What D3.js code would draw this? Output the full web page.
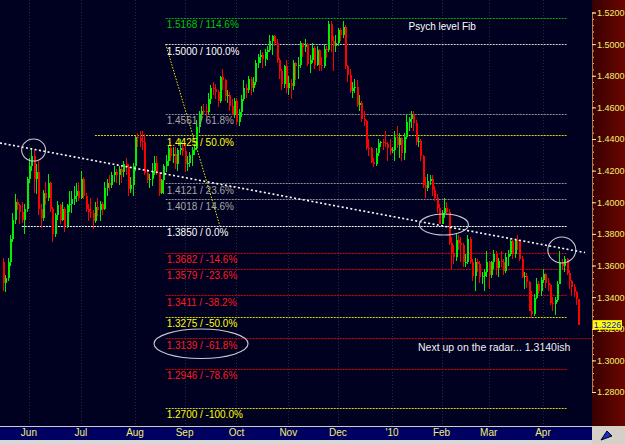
<!DOCTYPE html>
<html>
<head>
<meta charset="utf-8">
<script src="https://cdn.jsdelivr.net/npm/d3@7"></script>
<style>
  html, body { margin: 0; padding: 0; background: #000020; }
  svg { display: block; }
  text { font-family: "Liberation Sans", Arial, sans-serif; }
</style>
</head>
<body>
<svg id="chart" width="625" height="444"></svg>
<script>
// EUR/USD daily candles, 15 May 2009 .. 22 Apr 2010 (weekdays)
const firstDay = "2009-05-15";
const lastDay = "2010-04-22";
const monthLabels = ["Jun", "Jul", "Aug", "Sep", "Oct", "Nov", "Dec", "'10", "Feb", "Mar", "Apr"];

const opens = [
  1.3620, 1.3490, 1.3520, 1.3620, 1.3770, 1.3890, 1.4000, 1.3985, 1.3940, 1.3890, 1.3960,
  1.4150, 1.4230, 1.4290, 1.4150, 1.4190, 1.3960, 1.3900, 1.4060, 1.4030, 1.4120, 1.3960, 1.3800, 1.3920, 1.3980, 1.3885, 1.3960, 1.3850, 1.3980, 1.3990, 1.4020, 1.4040, 1.4070,
  1.4030, 1.4150, 1.4040, 1.3960, 1.3940, 1.3930, 1.3880, 1.3970, 1.3950, 1.3990, 1.3960, 1.4090, 1.4120, 1.4110, 1.4170, 1.4190, 1.4175, 1.4210, 1.4190, 1.4240, 1.4220, 1.4085, 1.4110,
  1.4230, 1.4410, 1.4405, 1.4385, 1.4380, 1.4185, 1.4140, 1.4150, 1.4200, 1.4250, 1.4185, 1.4060, 1.4140, 1.4230, 1.4260, 1.4340, 1.4295, 1.4305, 1.4245, 1.4330, 1.4345,
  1.4325, 1.4245, 1.4250, 1.4300, 1.4330, 1.4345, 1.4475, 1.4560, 1.4580, 1.4575, 1.4570, 1.4650, 1.4720, 1.4715, 1.4700, 1.4640, 1.4790, 1.4770, 1.4670, 1.4680, 1.4610, 1.4560,
  1.4640, 1.4510, 1.4570, 1.4655, 1.4725, 1.4710, 1.4780, 1.4725, 1.4760, 1.4880, 1.4920, 1.4930, 1.4905, 1.4950, 1.4960, 1.5020, 1.5050, 1.5010, 1.4900, 1.4830, 1.4745, 1.4860,
  1.4720, 1.4755, 1.4735, 1.4880, 1.4860, 1.4865, 1.5010, 1.4980, 1.5000, 1.4875, 1.4900, 1.4975, 1.4870, 1.4960, 1.4870, 1.4860, 1.4970, 1.4965, 1.5125, 1.5020, 1.4985,
  1.5005, 1.5090, 1.5060, 1.5110, 1.4860, 1.4805, 1.4705, 1.4720, 1.4730, 1.4615, 1.4630, 1.4525, 1.4515, 1.4345, 1.4340, 1.4255, 1.4240, 1.4310, 1.4375, 1.4380, 1.4375, 1.4370, 1.4340,
  1.4325, 1.4330, 1.4410, 1.4365, 1.4405, 1.4310, 1.4410, 1.4510, 1.4525, 1.4560, 1.4500, 1.4380, 1.4385, 1.4290, 1.4110, 1.4090, 1.4135, 1.4150, 1.4075, 1.4030, 1.3965,
  1.3865, 1.3930, 1.3965, 1.3940, 1.3740, 1.3675, 1.3655, 1.3760, 1.3740, 1.3730, 1.3620, 1.3625, 1.3770, 1.3625, 1.3535, 1.3620, 1.3610, 1.3525, 1.3535, 1.3560,
  1.3625, 1.3540, 1.3620, 1.3670, 1.3585, 1.3630, 1.3625, 1.3565, 1.3655, 1.3675, 1.3755, 1.3670, 1.3760, 1.3755, 1.3640, 1.3530, 1.3535, 1.3495, 1.3315, 1.3295, 1.3395, 1.3480, 1.3440,
  1.3510, 1.3545, 1.3490, 1.3475, 1.3365, 1.3355, 1.3380, 1.3485, 1.3620, 1.3600, 1.3640, 1.3555, 1.3500, 1.3465, 1.3435, 1.3385
];
const highs = [
  1.3650, 1.3540, 1.3650, 1.3790, 1.3930, 1.4050, 1.4020, 1.3990, 1.4000, 1.3990, 1.4160,
  1.4280, 1.4340, 1.4330, 1.4240, 1.4260, 1.3990, 1.4080, 1.4130, 1.4180, 1.4130, 1.3970, 1.3930, 1.4010, 1.3990, 1.4000, 1.3970, 1.3990, 1.4070, 1.4070, 1.4100, 1.4120, 1.4130,
  1.4200, 1.4160, 1.4060, 1.3990, 1.4030, 1.3950, 1.4000, 1.4030, 1.4010, 1.4000, 1.4130, 1.4150, 1.4170, 1.4190, 1.4230, 1.4210, 1.4230, 1.4230, 1.4260, 1.4280, 1.4240, 1.4160, 1.4250,
  1.4420, 1.4440, 1.4450, 1.4450, 1.4430, 1.4210, 1.4180, 1.4250, 1.4290, 1.4290, 1.4190, 1.4150, 1.4240, 1.4300, 1.4360, 1.4380, 1.4350, 1.4350, 1.4340, 1.4400, 1.4370,
  1.4370, 1.4290, 1.4320, 1.4350, 1.4370, 1.4520, 1.4580, 1.4610, 1.4620, 1.4620, 1.4690, 1.4740, 1.4760, 1.4750, 1.4710, 1.4800, 1.4845, 1.4780, 1.4710, 1.4700, 1.4650, 1.4660,
  1.4660, 1.4590, 1.4680, 1.4770, 1.4750, 1.4800, 1.4790, 1.4790, 1.4900, 1.4940, 1.4960, 1.4950, 1.4970, 1.4990, 1.5060, 1.5060, 1.5060, 1.5030, 1.4910, 1.4840, 1.4870, 1.4900,
  1.4800, 1.4780, 1.4900, 1.4890, 1.4920, 1.5020, 1.5010, 1.5030, 1.5010, 1.4930, 1.5010, 1.4990, 1.4990, 1.4970, 1.4920, 1.5000, 1.4990, 1.5145, 1.5145, 1.5050, 1.5060,
  1.5100, 1.5100, 1.5145, 1.5120, 1.4870, 1.4840, 1.4760, 1.4780, 1.4770, 1.4680, 1.4640, 1.4580, 1.4520, 1.4400, 1.4350, 1.4280, 1.4340, 1.4400, 1.4390, 1.4400, 1.4450, 1.4380, 1.4400,
  1.4350, 1.4450, 1.4480, 1.4440, 1.4410, 1.4440, 1.4560, 1.4540, 1.4580, 1.4580, 1.4520, 1.4410, 1.4400, 1.4300, 1.4160, 1.4180, 1.4170, 1.4170, 1.4100, 1.4050, 1.3990,
  1.3950, 1.4030, 1.4000, 1.3960, 1.3780, 1.3730, 1.3800, 1.3790, 1.3780, 1.3740, 1.3670, 1.3790, 1.3780, 1.3640, 1.3650, 1.3640, 1.3630, 1.3560, 1.3580, 1.3690,
  1.3630, 1.3630, 1.3700, 1.3690, 1.3650, 1.3690, 1.3640, 1.3680, 1.3700, 1.3770, 1.3760, 1.3770, 1.3790, 1.3760, 1.3660, 1.3560, 1.3550, 1.3500, 1.3440, 1.3420, 1.3520, 1.3500, 1.3530,
  1.3580, 1.3550, 1.3520, 1.3480, 1.3400, 1.3400, 1.3500, 1.3690, 1.3640, 1.3660, 1.3650, 1.3570, 1.3510, 1.3480, 1.3440, 1.3390
];
const lows = [
  1.3440, 1.3430, 1.3500, 1.3600, 1.3750, 1.3860, 1.3950, 1.3860, 1.3870, 1.3800, 1.3940,
  1.4120, 1.4200, 1.4060, 1.4050, 1.3920, 1.3840, 1.3880, 1.3980, 1.4010, 1.3940, 1.3750, 1.3780, 1.3890, 1.3860, 1.3880, 1.3810, 1.3840, 1.3940, 1.3930, 1.3980, 1.4000, 1.4010,
  1.4020, 1.4020, 1.3940, 1.3880, 1.3900, 1.3830, 1.3870, 1.3910, 1.3880, 1.3920, 1.3950, 1.4040, 1.4070, 1.4090, 1.4130, 1.4120, 1.4110, 1.4120, 1.4160, 1.4170, 1.4040, 1.4060, 1.4040,
  1.4200, 1.4350, 1.4350, 1.4330, 1.4170, 1.4120, 1.4090, 1.4100, 1.4170, 1.4170, 1.4040, 1.4050, 1.4050, 1.4190, 1.4230, 1.4260, 1.4250, 1.4210, 1.4200, 1.4300, 1.4290,
  1.4190, 1.4200, 1.4220, 1.4230, 1.4300, 1.4330, 1.4440, 1.4520, 1.4550, 1.4540, 1.4560, 1.4620, 1.4680, 1.4650, 1.4600, 1.4630, 1.4710, 1.4640, 1.4630, 1.4580, 1.4550, 1.4530,
  1.4490, 1.4480, 1.4540, 1.4640, 1.4660, 1.4690, 1.4680, 1.4700, 1.4740, 1.4850, 1.4880, 1.4850, 1.4860, 1.4900, 1.4950, 1.4930, 1.4990, 1.4880, 1.4780, 1.4710, 1.4720, 1.4690,
  1.4680, 1.4650, 1.4710, 1.4770, 1.4780, 1.4850, 1.4920, 1.4950, 1.4860, 1.4820, 1.4880, 1.4840, 1.4860, 1.4830, 1.4830, 1.4850, 1.4910, 1.4950, 1.4950, 1.4830, 1.4950,
  1.4990, 1.5020, 1.5040, 1.4840, 1.4760, 1.4690, 1.4660, 1.4690, 1.4600, 1.4580, 1.4510, 1.4480, 1.4330, 1.4290, 1.4250, 1.4220, 1.4230, 1.4290, 1.4350, 1.4330, 1.4350, 1.4260, 1.4300,
  1.4310, 1.4260, 1.4340, 1.4280, 1.4260, 1.4270, 1.4400, 1.4450, 1.4470, 1.4450, 1.4360, 1.4350, 1.4260, 1.4090, 1.4030, 1.4070, 1.4110, 1.4040, 1.4010, 1.3930, 1.3860,
  1.3860, 1.3900, 1.3920, 1.3730, 1.3580, 1.3610, 1.3630, 1.3700, 1.3620, 1.3590, 1.3590, 1.3610, 1.3610, 1.3500, 1.3440, 1.3560, 1.3490, 1.3480, 1.3440, 1.3530,
  1.3450, 1.3520, 1.3580, 1.3540, 1.3530, 1.3590, 1.3540, 1.3550, 1.3600, 1.3660, 1.3640, 1.3650, 1.3700, 1.3630, 1.3520, 1.3450, 1.3460, 1.3310, 1.3267, 1.3280, 1.3390, 1.3420, 1.3410,
  1.3490, 1.3460, 1.3440, 1.3350, 1.3310, 1.3285, 1.3370, 1.3480, 1.3570, 1.3560, 1.3540, 1.3450, 1.3410, 1.3400, 1.3350, 1.3225
];
const closes = [
  1.3490, 1.3520, 1.3620, 1.3770, 1.3890, 1.4000, 1.3985, 1.3940, 1.3890, 1.3960, 1.4150,
  1.4230, 1.4290, 1.4150, 1.4190, 1.3960, 1.3900, 1.4060, 1.4030, 1.4120, 1.3960, 1.3800, 1.3920, 1.3980, 1.3885, 1.3960, 1.3850, 1.3980, 1.3990, 1.4020, 1.4040, 1.4070, 1.4030,
  1.4150, 1.4040, 1.3960, 1.3940, 1.3930, 1.3880, 1.3970, 1.3950, 1.3990, 1.3960, 1.4090, 1.4120, 1.4110, 1.4170, 1.4190, 1.4175, 1.4210, 1.4190, 1.4240, 1.4220, 1.4085, 1.4110, 1.4230,
  1.4410, 1.4405, 1.4385, 1.4380, 1.4185, 1.4140, 1.4150, 1.4200, 1.4250, 1.4185, 1.4060, 1.4140, 1.4230, 1.4260, 1.4340, 1.4295, 1.4305, 1.4245, 1.4330, 1.4345, 1.4325,
  1.4245, 1.4250, 1.4300, 1.4330, 1.4345, 1.4475, 1.4560, 1.4580, 1.4575, 1.4570, 1.4650, 1.4720, 1.4715, 1.4700, 1.4640, 1.4790, 1.4770, 1.4670, 1.4680, 1.4610, 1.4560, 1.4640,
  1.4510, 1.4570, 1.4655, 1.4725, 1.4710, 1.4780, 1.4725, 1.4760, 1.4880, 1.4920, 1.4930, 1.4905, 1.4950, 1.4960, 1.5020, 1.5050, 1.5010, 1.4900, 1.4830, 1.4745, 1.4860, 1.4720,
  1.4755, 1.4735, 1.4880, 1.4860, 1.4865, 1.5010, 1.4980, 1.5000, 1.4875, 1.4900, 1.4975, 1.4870, 1.4960, 1.4870, 1.4860, 1.4970, 1.4965, 1.5125, 1.5020, 1.4985, 1.5005,
  1.5090, 1.5060, 1.5110, 1.4860, 1.4805, 1.4705, 1.4720, 1.4730, 1.4615, 1.4630, 1.4525, 1.4515, 1.4345, 1.4340, 1.4255, 1.4240, 1.4310, 1.4375, 1.4380, 1.4375, 1.4370, 1.4340, 1.4325,
  1.4330, 1.4410, 1.4365, 1.4405, 1.4310, 1.4410, 1.4510, 1.4525, 1.4560, 1.4500, 1.4380, 1.4385, 1.4290, 1.4110, 1.4090, 1.4135, 1.4150, 1.4075, 1.4030, 1.3965, 1.3865,
  1.3930, 1.3965, 1.3940, 1.3740, 1.3675, 1.3655, 1.3760, 1.3740, 1.3730, 1.3620, 1.3625, 1.3770, 1.3625, 1.3535, 1.3620, 1.3610, 1.3525, 1.3535, 1.3560, 1.3625,
  1.3540, 1.3620, 1.3670, 1.3585, 1.3630, 1.3625, 1.3565, 1.3655, 1.3675, 1.3755, 1.3670, 1.3760, 1.3755, 1.3640, 1.3530, 1.3535, 1.3495, 1.3315, 1.3295, 1.3395, 1.3480, 1.3440, 1.3510,
  1.3545, 1.3490, 1.3475, 1.3365, 1.3355, 1.3380, 1.3485, 1.3620, 1.3600, 1.3640, 1.3555, 1.3500, 1.3465, 1.3435, 1.3385, 1.3226
];

// "psych level" fib drawn from 1.5000 down to 1.3850
const fibPrices = [1.5168, 1.5000, 1.4561, 1.4425, 1.4121, 1.4018, 1.3850, 1.3682, 1.3579, 1.3411, 1.3275, 1.3139, 1.2946, 1.2700];
const fibRatios = [1.146, 1.0, 0.618, 0.5, 0.236, 0.146, 0, -0.146, -0.236, -0.382, -0.5, -0.618, -0.786, -1.0];
const fibFrom = "2009-08-20", fibDiagTo = "2009-09-22", fibTo = "2010-04-15";
// levels that the author pulled further left
const extendedPrices = [1.4425, 1.3850];
const extendedFrom = ["2009-07-09", "2009-05-27"];
const radarPrice = 1.3139;
// falling trendline touching the June high and the April high
const trendDates = ["2009-06-03", "2010-04-12"];
const trendPrices = [1.4335, 1.3712];
// circled spots: date, price, radius x, radius y
const circleDates = ["2009-06-03", "2010-02-02", "2010-04-13", "2009-09-10"];
const circlePrices = [1.4330, 1.3859, 1.3698, 1.3105];
const circleRx = [12, 24.5, 14, 47];
const circleRy = [11, 10.5, 13, 14.7];
const priceTicks = [1.28, 1.30, 1.32, 1.34, 1.36, 1.38, 1.40, 1.42, 1.44, 1.46, 1.48, 1.50, 1.52];

const parse = d3.timeParse("%Y-%m-%d");
const dates = d3.timeDay.range(parse(firstDay), d3.timeDay.offset(parse(lastDay), 1))
  .filter(d => d.getDay() !== 0 && d.getDay() !== 6);
const candles = dates.map((d, i) => ({ date: d, o: opens[i], h: highs[i], l: lows[i], c: closes[i] }));
const monthStarts = dates.filter((d, i) => i > 0 && d.getMonth() !== dates[i - 1].getMonth());

const W = 625, H = 444, plotRight = 592, plotBottom = 426, bandBottom = 440;
const svg = d3.select("#chart");

const x = d3.scaleBand().domain(dates).range([1.8, 579.5]).padding(0);
const y = d3.scaleLinear().domain([1.28, 1.52]).range([392, 12.5]);
const xc = d => x(d) + x.bandwidth() / 2;
const xd = s => xc(parse(s));

// backgrounds
const defs = svg.append("defs");
const grad = defs.append("linearGradient").attr("id", "axisBg");
grad.append("stop").attr("offset", "0%").attr("stop-color", "#380000");
grad.append("stop").attr("offset", "100%").attr("stop-color", "#6a0600");
defs.append("clipPath").attr("id", "plotClip").append("rect")
  .attr("width", plotRight).attr("height", plotBottom);

svg.append("rect").attr("width", W).attr("height", H).attr("fill", "#000020");
svg.append("rect").attr("x", plotRight).attr("width", W - plotRight).attr("height", plotBottom)
  .attr("fill", "url(#axisBg)");

const plot = svg.append("g").attr("clip-path", "url(#plotClip)");

// month grid
plot.selectAll("line.vgrid").data(monthStarts).join("line")
  .attr("class", "vgrid")
  .attr("x1", d => Math.round(xc(d)) + 0.5).attr("x2", d => Math.round(xc(d)) + 0.5)
  .attr("y1", 0).attr("y2", plotBottom)
  .attr("stroke", "#2a2a3c").attr("stroke-dasharray", "1,2");

// fib colours
function fibKind(r) {
  if (r > 1) return "ext";
  if (r === 1 || r === 0) return "anchor";
  if (Math.abs(r) === 0.5 || r === -1) return "half";
  if (r > 0) return "retr";
  return "neg";
}
const lineColor = { ext: "#00b000", anchor: "#d0d0d0", half: "#d8d800", retr: "#909090", neg: "#e00000" };
const textColor = { ext: "#00c800", anchor: "#ffffff", half: "#ffff00", retr: "#a8a8a8", neg: "#ff1c1c" };
const levels = fibPrices.map((p, i) => ({ p, r: fibRatios[i], kind: fibKind(fibRatios[i]) }));

const crisp = v => Math.round(v) + 0.5;
plot.selectAll("line.fib").data(levels).join("line")
  .attr("class", "fib")
  .attr("x1", xd(fibFrom)).attr("x2", xd(fibTo))
  .attr("y1", d => crisp(y(d.p))).attr("y2", d => crisp(y(d.p)))
  .attr("stroke", d => d.kind === "anchor" && d.r === 0 ? "#ffffff" : lineColor[d.kind])
  .attr("stroke-dasharray", "2,1");

plot.selectAll("line.ext").data(extendedPrices).join("line")
  .attr("class", "ext")
  .attr("x1", (d, i) => xd(extendedFrom[i])).attr("x2", xd(fibFrom))
  .attr("y1", d => crisp(y(d))).attr("y2", d => crisp(y(d)))
  .attr("stroke", (d, i) => i === 0 ? lineColor.half : "#ffffff")
  .attr("stroke-dasharray", "2,1");

plot.append("line")
  .attr("x1", xd(fibTo)).attr("x2", plotRight)
  .attr("y1", crisp(y(radarPrice))).attr("y2", crisp(y(radarPrice)))
  .attr("stroke", "#b00000").attr("stroke-dasharray", "2,1");

// candles
const up = d => d.c >= d.o;
const cg = plot.append("g").attr("shape-rendering", "crispEdges");
cg.selectAll("line").data(candles).join("line")
  .attr("x1", d => Math.round(xc(d.date)) + 0.5).attr("x2", d => Math.round(xc(d.date)) + 0.5)
  .attr("y1", d => y(d.h)).attr("y2", d => y(d.l))
  .attr("stroke", d => up(d) ? "#00f000" : "#ff0000");
cg.selectAll("rect").data(candles).join("rect")
  .attr("x", d => Math.round(xc(d.date)) - 0.5).attr("width", 2)
  .attr("y", d => y(Math.max(d.o, d.c)))
  .attr("height", d => Math.max(1, Math.abs(y(d.o) - y(d.c))))
  .attr("fill", d => up(d) ? "#00f000" : "#ff0000");

// trendline, extended across the chart
const t0 = [xd(trendDates[0]), y(trendPrices[0])], t1 = [xd(trendDates[1]), y(trendPrices[1])];
const slope = (t1[1] - t0[1]) / (t1[0] - t0[0]);
const tEnd = plotRight - 7;
plot.append("line")
  .attr("x1", 0).attr("y1", t0[1] - slope * t0[0])
  .attr("x2", tEnd).attr("y2", t0[1] + slope * (tEnd - t0[0]))
  .attr("stroke", "#ffffff").attr("stroke-width", 1.6).attr("stroke-dasharray", "2,2.4");

// fib diagonal
plot.append("line")
  .attr("x1", xd(fibFrom)).attr("y1", y(fibPrices[1]))
  .attr("x2", xd(fibDiagTo)).attr("y2", y(fibPrices[6]))
  .attr("stroke", "#f0f000").attr("stroke-dasharray", "1.5,1.5");

// circles
plot.selectAll("ellipse").data(circleDates).join("ellipse")
  .attr("cx", d => xd(d)).attr("cy", (d, i) => y(circlePrices[i]))
  .attr("rx", (d, i) => circleRx[i]).attr("ry", (d, i) => circleRy[i])
  .attr("fill", "none").attr("stroke", "#c8c8d0").attr("stroke-width", 1.1);

// fib labels
const fmt = d3.format(".4f");
const pct = d3.format(".1%");
plot.selectAll("text.fib").data(levels).join("text")
  .attr("class", "fib")
  .attr("x", xd(fibFrom) + 1).attr("y", d => y(d.p) + 10.5)
  .attr("font-size", 10).attr("fill", d => textColor[d.kind])
  .text(d => `${fmt(d.p)} / ${pct(d.r).replace("\u2212", "-")}`);

plot.append("text").attr("x", xd("2010-01-12")).attr("y", y(1.5092))
  .attr("font-size", 10).attr("fill", "#ffffff").text("Psych level Fib");
plot.append("text").attr("x", xd("2010-01-18")).attr("y", y(radarPrice) + 12.3)
  .attr("font-size", 10.5).attr("fill", "#f0f0f0").text("Next up on the radar... 1.3140ish");

// price axis
const minorTicks = d3.range(1.28, 1.5201, 0.004);
const ax = svg.append("g").attr("transform", `translate(${plotRight},0)`);
ax.append("g").call(d3.axisRight(y).tickValues(minorTicks).tickSize(2).tickFormat(""))
  .call(g => g.select(".domain").remove())
  .call(g => g.selectAll("line").attr("stroke", "#e0c8b0"));
ax.append("g").call(d3.axisRight(y).tickValues(priceTicks).tickSize(4).tickPadding(1).tickFormat(fmt))
  .call(g => g.select(".domain").attr("stroke", "#c07838"))
  .call(g => g.selectAll("line").attr("stroke", "#f0e0c8"))
  .call(g => g.selectAll("text").attr("fill", "#f0f070").attr("font-size", 9)
    .attr("font-family", "Liberation Sans, Arial, sans-serif"));

// last price tag
const last = candles[candles.length - 1];
ax.append("rect").attr("x", 1).attr("y", y(last.c) - 4.5).attr("width", 29).attr("height", 9.5)
  .attr("fill", "#ffff00");
ax.append("text").attr("x", 15.5).attr("y", y(last.c) + 3.5).attr("text-anchor", "middle")
  .attr("font-size", 9).attr("fill", "#1010c0").text(fmt(last.c));

// date axis
svg.append("rect").attr("y", plotBottom).attr("width", plotRight).attr("height", bandBottom - plotBottom)
  .attr("fill", "#000062");
svg.append("line").attr("x1", 0).attr("x2", plotRight).attr("y1", plotBottom + 0.5).attr("y2", plotBottom + 0.5)
  .attr("stroke", "#d0d0b8");
svg.append("g").attr("transform", `translate(0,${plotBottom})`)
  .call(d3.axisBottom(x).tickValues(monthStarts).tickSize(0).tickPadding(2.5)
    .tickFormat((d, i) => monthLabels[i]))
  .call(g => g.select(".domain").remove())
  .call(g => g.selectAll("text").attr("fill", "#f0f070").attr("font-size", 10)
    .attr("font-family", "Liberation Sans, Arial, sans-serif"));
svg.append("rect").attr("y", bandBottom).attr("width", W).attr("height", H - bandBottom).attr("fill", "#d8d8d8");

// corner button
svg.append("rect").attr("x", plotRight).attr("y", plotBottom).attr("width", W - plotRight)
  .attr("height", H - plotBottom).attr("fill", "#d4d0c8");
svg.append("path")
  .attr("d", `M${plotRight + 9},${H - 4} L${plotRight + 15},${plotBottom + 5} L${plotRight + 20},${H - 8} Z`)
  .attr("fill", "#1030d0").attr("stroke", "#000000");
</script>
</body>
</html>
